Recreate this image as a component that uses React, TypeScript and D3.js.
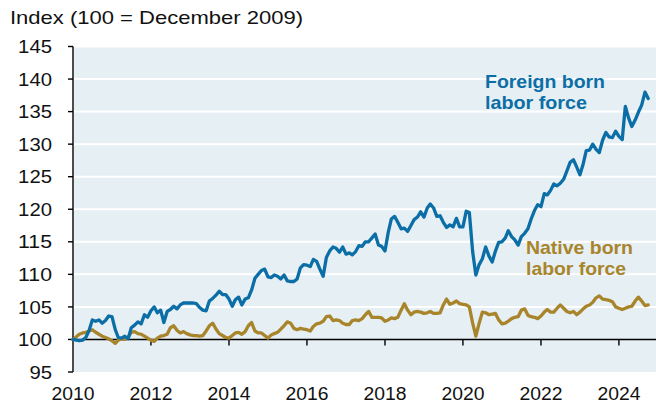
import React from "react";
import * as d3 from "d3";

const foreign: number[] = [
  100.0, 99.9, 99.8, 99.9, 100.3, 101.4, 103.0, 102.8, 103.0, 102.5, 102.9, 103.6,
  103.5, 101.5, 100.3, 100.2, 100.5, 100.1, 101.8, 102.2, 102.7, 102.4, 103.8, 103.4,
  104.4, 105.0, 104.1, 104.5, 102.6, 104.3, 104.6, 105.1, 104.7, 105.3, 105.6, 105.6,
  105.6, 105.6, 105.5, 104.9, 104.5, 104.4, 105.9, 106.3, 106.8, 107.4, 106.9, 106.9,
  106.2, 105.1, 106.1, 106.5, 105.3, 106.2, 106.4, 107.6, 109.4, 110.0, 110.6, 110.8,
  109.6, 109.5, 109.9, 109.7, 109.3, 109.9, 109.0, 108.9, 108.9, 109.3, 111.0, 111.5,
  111.4, 111.2, 112.3, 112.0, 110.8, 109.7, 112.6, 113.6, 114.2, 114.0, 113.4, 114.2,
  113.1, 113.3, 113.0, 113.5, 114.4, 114.3, 115.0, 115.0, 115.6, 116.2, 114.5, 114.3,
  113.6, 116.5, 118.5, 118.9, 118.0, 117.0, 117.1, 116.6, 117.5, 118.4, 118.8, 119.6,
  118.8, 120.2, 120.8, 120.2, 118.9, 119.0, 118.0, 117.2, 117.6, 117.3, 118.6, 117.3,
  117.3, 119.7, 119.5, 113.5, 109.9, 111.5, 112.4, 114.2, 112.8, 111.9, 113.6, 114.9,
  115.0, 115.6, 116.7, 115.8, 115.3, 114.5, 115.8, 116.3, 117.0, 118.5, 119.8, 120.7,
  120.4, 122.4, 122.2, 122.9, 123.9, 123.6, 124.0, 124.6, 125.9, 127.2, 127.6, 126.5,
  125.3, 127.0, 129.0, 129.1, 130.0, 129.2, 128.7, 130.6, 131.8, 131.1, 131.0, 132.0,
  131.2, 130.7, 135.8, 134.0, 132.7, 133.7, 134.9, 136.0, 138.0, 137.0,
];

const native: number[] = [
  100.0, 100.4, 100.8, 101.0, 101.1, 101.3, 101.5, 101.1, 100.8, 100.5, 100.3, 100.1,
  99.8, 99.4, 99.9, 100.1, 100.0, 100.3, 101.1, 101.2, 100.9, 100.8, 100.5, 100.2,
  99.9, 99.7, 100.2, 100.5, 100.6, 100.8, 101.8, 102.1, 101.4, 101.0, 101.2, 100.9,
  100.7, 100.6, 100.6, 100.5, 100.6, 101.3, 102.1, 102.5, 101.6, 100.9, 100.6, 100.3,
  100.2, 100.6, 101.0, 101.1, 100.8, 101.2, 102.1, 102.6, 101.3, 101.0, 101.0, 100.6,
  100.2, 100.7, 100.9, 101.1, 101.6, 102.1, 102.7, 102.5, 101.7, 101.5, 101.7, 101.6,
  101.5, 101.3, 102.0, 102.4, 102.5, 102.8, 103.5, 103.6, 102.9, 103.0, 102.9, 102.5,
  102.3, 102.3, 102.9, 103.0, 102.9, 103.2, 103.8, 104.3, 103.4, 103.4, 103.4, 103.3,
  102.8, 103.0, 103.3, 103.2, 103.4, 104.5, 105.5, 104.5, 103.8, 104.2, 104.3, 104.2,
  104.0, 104.1, 104.3, 104.0, 104.0, 104.1, 105.3, 106.2, 105.4, 105.6, 105.9, 105.5,
  105.4, 105.3, 105.0, 102.5, 100.5, 102.5, 104.2, 104.1, 103.8, 103.9, 104.0, 103.0,
  102.4, 102.5, 102.8, 103.2, 103.4, 103.5, 104.5, 104.7, 103.7, 103.5, 103.4, 103.2,
  103.6, 104.2, 104.6, 104.2, 104.2, 104.8, 105.3, 104.8, 104.3, 104.1, 104.3, 103.8,
  104.2, 104.7, 105.1, 105.3, 105.7, 106.4, 106.7, 106.2, 106.1, 106.0, 105.8, 105.0,
  104.8, 104.6, 104.8, 105.0, 105.1, 105.9, 106.5, 105.9, 105.2, 105.3,
];

const yTicks: number[] = [95, 100, 105, 110, 115, 120, 125, 130, 135, 140, 145];
const xTickYears: number[] = [2010, 2012, 2014, 2016, 2018, 2020, 2022, 2024];

const titleText = "Index (100 = December 2009)";
const foreignLabel = ["Foreign born", "labor force"];
const nativeLabel = ["Native born", "labor force"];

const W = 656;
const H = 402;
const BG = "#e6eff3";
const BLUE = "#0b6ea6";
const GOLD = "#a8852b";
const FONT = "Liberation Sans, Arial, Helvetica, sans-serif";

export default function App() {
  const plotLeft = 73;
  const plotRight = 656;
  const x = d3
    .scaleTime()
    .domain([new Date(2010, 0, 1), new Date(2025, 0, 1)])
    .range([73, 658]);
  const y = d3.scaleLinear().domain([95, 145]).range([372, 46.5]);

  const dates = foreign.map((_, i) => new Date(2010, i, 1));
  const line = d3
    .line<number>()
    .x((_, i) => x(dates[i]))
    .y((d) => y(d))
    .curve(d3.curveLinear);

  return (
    <svg
      width={W}
      height={H}
      style={{ position: "absolute", left: 0, top: 0, background: "#fff" }}
      fontFamily={FONT}
    >
      <rect
        x={plotLeft + 1}
        y={y(145)}
        width={plotRight - plotLeft - 1}
        height={y(95) - y(145)}
        fill={BG}
      />
      {yTicks
        .filter((t) => t > 100)
        .map((t) => (
          <line
            key={"g" + t}
            x1={plotLeft}
            x2={plotRight}
            y1={y(t)}
            y2={y(t)}
            stroke="#ffffff"
            strokeWidth={2}
          />
        ))}
      <line x1={plotLeft} x2={plotRight} y1={y(100)} y2={y(100)} stroke="#000" strokeWidth={1.6} />
      {xTickYears
        .filter((yr) => yr > 2010)
        .map((yr) => (
          <line
            key={"xt" + yr}
            x1={x(new Date(yr, 0, 1))}
            x2={x(new Date(yr, 0, 1))}
            y1={y(100)}
            y2={y(100) + 6}
            stroke="#000"
            strokeWidth={1.4}
          />
        ))}
      <line x1={plotLeft} x2={plotLeft} y1={y(145)} y2={y(95)} stroke="#000" strokeWidth={1.4} />
      {yTicks.map((t) => (
        <g key={"yt" + t}>
          <line x1={plotLeft - 5} x2={plotLeft} y1={y(t)} y2={y(t)} stroke="#000" strokeWidth={1.4} />
          <text
            x={52}
            y={y(t)}
            dy="0.36em"
            textAnchor="end"
            fontSize={18.5}
            fill="#111"
            textLength={String(t).length * 11.3}
            lengthAdjust="spacingAndGlyphs"
          >
            {t}
          </text>
        </g>
      ))}
      {xTickYears.map((yr) => (
        <text
          key={"xl" + yr}
          x={x(new Date(yr, 0, 1))}
          y={399.5}
          textAnchor="middle"
          fontSize={17.5}
          fill="#111"
          textLength={43}
          lengthAdjust="spacingAndGlyphs"
        >
          {yr}
        </text>
      ))}
      <path d={line(native) || ""} fill="none" stroke={GOLD} strokeWidth={3.3} strokeLinejoin="round" strokeLinecap="round" />
      <path d={line(foreign) || ""} fill="none" stroke={BLUE} strokeWidth={3.3} strokeLinejoin="round" strokeLinecap="round" />
      <text x={10} y={23.5} fontSize={18.6} fill="#111" textLength={293} lengthAdjust="spacingAndGlyphs">
        {titleText}
      </text>
      <text fontSize={18.5} fontWeight="bold" fill={BLUE}>
        <tspan x={485} y={88.3} textLength={120} lengthAdjust="spacingAndGlyphs">
          {foreignLabel[0]}
        </tspan>
        <tspan x={485} y={109.3} textLength={102} lengthAdjust="spacingAndGlyphs">
          {foreignLabel[1]}
        </tspan>
      </text>
      <text fontSize={18.5} fontWeight="bold" fill={GOLD}>
        <tspan x={526} y={254.3} textLength={107} lengthAdjust="spacingAndGlyphs">
          {nativeLabel[0]}
        </tspan>
        <tspan x={526} y={275.3} textLength={100} lengthAdjust="spacingAndGlyphs">
          {nativeLabel[1]}
        </tspan>
      </text>
    </svg>
  );
}
